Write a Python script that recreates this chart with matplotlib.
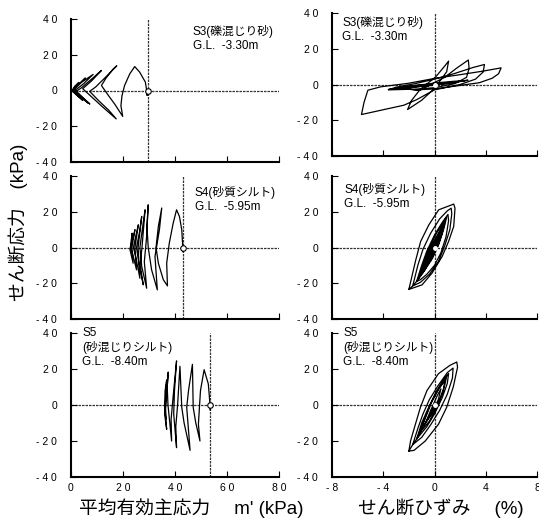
import matplotlib
matplotlib.use("Agg")
import matplotlib.pyplot as plt

FONT = ['Liberation Sans', 'Noto Sans CJK JP', 'DejaVu Sans']
plt.rcParams['font.family'] = FONT

# --- S3 (gravelly sand), G.L. -3.30m ---
s3_p0 = 29.5
s3_p = [29.2, 29.3, 29.0, 28.6, 27.5, 26.4, 24.5, 22.6, 20.6, 19.6,
        19.2, 19.9, 17.0, 14.0, 11.7, 13.5, 16.2, 17.6, 13.0, 9.5,
        7.2, 10.5, 14.5, 17.4, 12.0, 7.5, 4.5, 8.0, 11.7, 8.0,
        4.0, 2.0, 4.5, 7.2, 4.5, 2.0, 1.2, 4.0, 8.5, 5.0,
        1.8, 1.0, 3.5, 6.5, 3.0, 1.2, 0.8, 3.0, 5.5, 2.0,
        0.8, 0.6, 2.5, 4.5, 1.5, 0.6, 1.5, 3.0, 1.0, 0.5]
s3_tau_p = [0.2, -2.8, 1.0, 4.7, 7.5, 10.3, 13.4, 9.3, 2.8, -3.0,
            -8.5, -14.5, -8.0, -2.0, 2.8, 7.0, 12.0, 13.8, 7.0, 2.0,
            -0.5, -5.5, -11.0, -15.9, -9.0, -3.0, 1.0, 5.5, 11.2, 6.5,
            1.5, -0.5, -4.0, -7.5, -4.0, -0.5, 0.5, 4.5, 9.0, 4.0,
            0.3, -0.5, -3.5, -7.0, -2.5, -0.3, 0.5, 3.5, 7.0, 2.0,
            0.0, -0.5, -3.0, -5.5, -1.5, 0.3, 2.5, 4.5, 1.0, 0.0]
s3_strain = [0, 1.0, 2.0, 2.6, 1.8, 0.5, -1.0, -2.2, -3.0, -3.6,
             -2.8, -1.5, 0, 1.5, 2.4, 1.4, 0, -1.5, -2.5, -1.2,
             0.1, 0.85, 1.1, 0.95, 0, -1.0, -2.1, -1.8, -1.2, -0.3,
             0.8, 1.7, 2.3, 2.64, 2.7, 2.5, 1.6, 0, -1.5, -3.6,
             -3.0, -1.5, 0, 1.5, 3.0, 3.9, 3.8, 3.2, 2.0, 0,
             -1.4, -2.4, -3.8, -5.7, -5.5, -5.2, -4.2, -2.1, 0, 2.0,
             3.8, 5.2, 5.0, 4.5, 3.5, 1.5, 0, -1.5, -3.0, -1.5, 0]
s3_tau_g = [0, 1.0, 1.8, 2.4, 1.6, 0.2, -1.0, -1.8, -2.2, -2.8,
            -2.0, -0.6, 0.8, 1.8, 2.2, 0.8, -0.4, -1.4, -2.2, -3.2,
            4.3, 10.8, 13.1, 7.1, -2.2, -8.8, -14.0, -9.0, -3.5, 0,
            4.0, 9.0, 12.0, 13.7, 9.0, 4.0, 0.5, -1.8, -2.6, -3.0,
            -1.5, 0.5, 3.0, 6.0, 9.5, 11.2, 7.0, 3.0, 0, -3.0,
            -8.5, -11.6, -13.8, -16.8, -10.0, -3.2, -1.3, 0.6, 3.4, 5.5,
            7.5, 9.3, 6.0, 3.5, 1.0, -1.0, -2.5, -3.0, -2.0, -0.5, 0]

# --- S4 (sandy silt), G.L. -5.95m ---
s4_p0 = 43.1
s4_p = [43.1, 43.1, 42.6, 41.7, 40.6, 39.3, 37.8, 36.8, 37.1, 35.5,
        33.6, 32.7, 33.6, 34.9, 34.0, 32.3, 33.2, 31.0, 29.7, 29.2,
        29.7, 29.1, 28.2, 29.1, 27.2, 26.5, 27.6, 28.5, 27.3, 26.6,
        27.8, 26.0, 25.2, 26.4, 27.2, 25.8, 26.5, 25.0, 24.0, 25.0,
        25.9, 24.6, 25.2, 23.8, 22.9, 24.0, 24.6, 23.4, 23.9, 22.7,
        23.5, 23.2]
s4_tau_p = [0, -2.5, 9.9, 17.4, 21.1, 13.6, 2.4, -8.8, -21.5, -18,
            -8.8, 0, 11.8, 22.1, 9.9, -5, -23.7, -12.5, 0, 12,
            23.9, 6.2, -8, -22.8, -10.6, 0, 12, 21.1, 0, -10,
            -20.9, -8, 0, 9, 17.4, 0, -17.2, -6, 0, 7,
            12.7, 0, -12.5, -4, 0, 6, 10, 0, -8.8, -1.3,
            8, 0]
s4_strain = [-2.0, -1.46, -1.08, -0.44, 0.33, 1.36, 1.5, 1.6, 1.5, 1.1, 0.6, -0.2, -0.97, -1.74, -2.0,
             -1.7, -1.3, -0.9, -0.3, 0.4, 1.0, 1.3, 1.35, 1.2, 0.8, 0.3, -0.4, -1.1, -1.7,
             -1.4, -1.0, -0.6, 0.0, 0.6, 1.05, 1.1, 0.9, 0.5, 0.0, -0.6, -1.1, -1.4,
             -1.25, -0.85, -0.45, 0.15, 0.7, 0.95, 0.75, 0.35, -0.15, -0.7, -1.25,
             -1.1, -0.7, -0.3, 0.3, 0.8, 0.85, 0.6, 0.2, -0.3, -0.8, -1.1,
             -0.95, -0.6, -0.15, 0.35, 0.7, 0.55, 0.15, -0.3, -0.95,
             -0.8, -0.45, 0.0, 0.45, 0.6, 0.4, 0.0, -0.4, -0.8,
             -0.5, -0.15, 0.3, 0.4, 0.15, -0.2, -0.5, 0]
s4_tau_g = [-23.4, -6.9, 3.4, 12.7, 21.1, 23.9, 24.3, 22, 11.8, 3.4, -5, -14.4, -20.9, -22.8, -23.4,
            -21.5, -10, -1, 8, 16, 20.5, 22, 19, 10, 1, -8, -15, -19.5, -21.5,
            -19, -10, -2, 7, 14, 18.5, 15, 6, -3, -10, -15, -18, -19,
            -17.5, -9, -1, 8, 14, 17, 11, 2, -6, -12, -17.5,
            -16, -8, 0, 8, 14, 16, 8, 0, -7, -12, -16,
            -14.5, -7, 1, 8, 13.5, 7, -1, -7, -14.5,
            -13, -6, 2, 9, 12, 6, -1, -7, -13,
            -9, -2, 5, 8, 2, -4, -9, 0]

# --- S5 (silt with sand), G.L. -8.40m ---
s5_p0 = 53.5
s5_p = [53.5, 53.6, 53.2, 52.8, 51.2, 49.8, 49.0, 49.6, 48.0, 47.0,
        46.7, 45.2, 44.5, 45.8, 43.5, 42.6, 41.9, 41.0, 40.3, 40.6,
        39.5, 39.8, 40.6, 39.3, 38.5, 38.7, 37.3, 37.0, 37.4, 36.5,
        36.0, 36.8, 36.0, 36.2, 36.8, 36.3, 36.6]
s5_tau_p = [0, -3, 5, 11.8, 19.6, 8, -10.7, -20, -10, -1.3,
            22.6, 8, -1.3, -25.2, -10, -1.3, 21.5, 0, -12, -23.7,
            -5, 8, 24.5, 5, -8, -20, 0, 10, 18.3, 0,
            -5, -13.5, 0, 8, 14, 0, -8]
s5_strain = [-2.0, -1.87, -1.49, -1.1, -0.59, 0.31, 1.2, 1.74, 1.8, 1.46, 0.95, 0.31, -0.72, -1.6, -2.0,
             -1.7, -1.3, -0.9, -0.4, 0.3, 1.0, 1.45, 1.4, 1.0, 0.4, -0.3, -1.0, -1.7,
             -1.4, -1.0, -0.5, 0.1, 0.7, 1.1, 1.0, 0.6, 0.0, -0.6, -1.4,
             -1.25, -0.85, -0.35, 0.25, 0.75, 0.95, 0.8, 0.4, -0.2, -0.8, -1.25,
             -1.1, -0.7, -0.2, 0.4, 0.8, 0.7, 0.2, -0.4, -1.1,
             -0.7, -0.3, 0.2, 0.5, 0.3, -0.2, -0.7, 0]
s5_tau_g = [-25.6, -20, -10.7, -1.3, 8, 17.4, 22, 23.9, 21, 9.9, -1.3, -10.7, -20, -25.2, -25.6,
            -22, -13, -5, 3, 11, 18, 20.5, 15, 6, -3, -11, -18, -22,
            -19, -10, -2, 7, 14, 17.5, 12, 4, -5, -12, -19,
            -17, -9, 0, 8, 13, 16, 11, 3, -5, -11, -17,
            -15, -7, 2, 10, 14, 8, -1, -9, -15,
            -10, -3, 5, 9, 3, -4, -10, 0]

tau_ticks = [-40, -20, 0, 20, 40]
tau_labels = ['- 4 0', '- 2 0', '0', '2 0', '4 0']
p_ticks = [0, 20, 40, 60, 80]
p_labels = ['0', '2 0', '4 0', '6 0', '8 0']
g_ticks = [-8, -4, 0, 4, 8]
g_labels = ['- 8', '- 4', '0', '4', '8']

soil_names = ['S3(礫混じり砂)\nG.L.  -3.30m',
              'S4(砂質シルト)\nG.L.  -5.95m',
              'S5\n(砂混じりシルト)\nG.L.  -8.40m']

W, H = 539, 522
fig = plt.figure(figsize=(W / 100, H / 100), dpi=100)


def box(x0, top, bottom, width=208):
    return [x0 / W, 1 - bottom / H, width / W, (bottom - top) / H]


DASH = (0, (2.0, 0.8))


def style(ax, xticks, xlabels, show_x):
    ax.spines['top'].set_visible(False)
    ax.spines['right'].set_visible(False)
    ax.spines['left'].set_linewidth(1.5)
    ax.spines['bottom'].set_linewidth(1.5)
    ax.set_ylim(-40, 40)
    ax.set_yticks(tau_ticks)
    ax.set_yticklabels(tau_labels)
    ax.set_xticks(xticks)
    ax.set_xticklabels(xlabels if show_x else [])
    ax.tick_params(direction='in', length=4, width=0.8, labelsize=7.5, pad=4)
    ax.tick_params(axis='y', pad=10)


rows = [(19, 162, 13, 156), (176, 319, 176, 319), (333, 477, 333, 477)]
paths = [(s3_p, s3_tau_p, s3_p0, s3_strain, s3_tau_g),
         (s4_p, s4_tau_p, s4_p0, s4_strain, s4_tau_g),
         (s5_p, s5_tau_p, s5_p0, s5_strain, s5_tau_g)]
text_pos = [((0.585, 0.96), (0.05, 0.98), 1.25),
            ((0.595, 0.93), (0.06, 0.95), 1.25),
            ((0.055, 1.04), (0.055, 1.04), 1.2)]

for i, ((lt, lb, rt, rb), (p, tp, p0, g, tg)) in enumerate(zip(rows, paths)):
    last = i == 2
    # stress path
    ax = fig.add_axes(box(71, lt, lb))
    ax.set_xlim(0, 80)
    ax.axhline(0, color='#333333', lw=0.9, ls=DASH, zorder=1)
    ax.axvline(p0, color='#333333', lw=0.9, ls=DASH, zorder=1)
    ax.plot(p, tp, color='black', lw=0.9, zorder=2)
    ax.plot([p0], [0], 'o', ms=4, mfc='white', mec='black', mew=0.8, zorder=3)
    style(ax, p_ticks, p_labels, last)
    # stress-strain
    ax2 = fig.add_axes(box(332, rt, rb, 205))
    ax2.set_xlim(-8, 8)
    ax2.axhline(0, color='#333333', lw=0.9, ls=DASH, zorder=1)
    ax2.axvline(0, color='#333333', lw=0.9, ls=DASH, zorder=1)
    ax2.plot(g, tg, color='black', lw=0.9, zorder=2)
    ax2.plot([0], [0], 'o', ms=2.5, mfc='white', mec='white', zorder=3)
    style(ax2, g_ticks, g_labels, last)

    name = soil_names[i]
    lpos, rpos, ls = text_pos[i]
    ax.text(lpos[0], lpos[1], name, transform=ax.transAxes, fontsize=8.5,
            va='top', ha='left', linespacing=ls)
    ax2.text(rpos[0], rpos[1], name, transform=ax2.transAxes, fontsize=8.5,
             va='top', ha='left', linespacing=ls)

fig.text(18 / W, 1 - 222 / H, 'せん断応力\u3000(kPa)', rotation=90,
         ha='center', va='center', fontsize=13.5)
fig.text(191 / W, 1 - 508 / H, "平均有効主応力\u3000 m' (kPa)",
         ha='center', va='center', fontsize=13.5)
fig.text(441 / W, 1 - 508 / H, 'せん断ひずみ\u3000 (%)',
         ha='center', va='center', fontsize=13.5)

fig.savefig('out.png', dpi=100)
